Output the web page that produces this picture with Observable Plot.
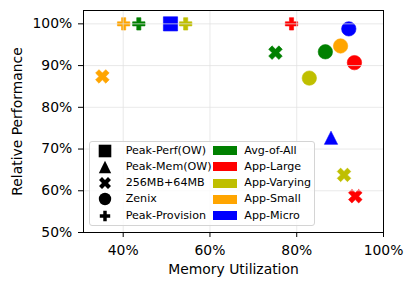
<!DOCTYPE html>
<html><head><meta charset="utf-8">
<script src="https://cdn.jsdelivr.net/npm/d3@7"></script>
<script src="https://cdn.jsdelivr.net/npm/@observablehq/plot@0.6"></script>
<style>
body{margin:0;background:#fff;}
#wrap{position:relative;width:415px;height:289px;font-family:"DejaVu Sans",sans-serif;}
#legend{position:absolute;left:89px;top:141px;width:226px;height:85px;background:rgba(255,255,255,0.8);border:1px solid #d4d4d4;border-radius:3px;box-sizing:border-box;}
.li{position:absolute;font-size:11.1px;line-height:14px;color:#000;white-space:nowrap;font-family:"DejaVu Sans",sans-serif;}
.sw{position:absolute;width:24px;height:9px;}
</style></head><body><div id="wrap"></div>
<script>
// Data
const groups = ["Avg-of-All", "App-Large", "App-Varying", "App-Small", "App-Micro"];
const groupColors = ["#008000", "#ff0000", "#bfbf00", "#ffa500", "#0000ff"];
const methods = ["Peak-Perf(OW)", "Peak-Mem(OW)", "256MB+64MB", "Zenix", "Peak-Provision"];
const pointMethod = ["Peak-Perf(OW)", "Peak-Mem(OW)",
  "256MB+64MB", "256MB+64MB", "256MB+64MB", "256MB+64MB",
  "Zenix", "Zenix", "Zenix", "Zenix", "Zenix",
  "Peak-Provision", "Peak-Provision", "Peak-Provision", "Peak-Provision"];
const pointGroup = ["App-Micro", "App-Micro",
  "Avg-of-All", "App-Small", "App-Varying", "App-Large",
  "App-Micro", "App-Small", "Avg-of-All", "App-Large", "App-Varying",
  "App-Small", "Avg-of-All", "App-Varying", "App-Large"];
const memUtil = [50.9, 87.9, 75.1, 35.2, 90.9, 93.5, 92.0, 90.1, 86.6, 93.3, 82.9, 40.1, 43.6, 54.4, 78.8];
const relPerf = [100, 72.7, 93.1, 87.4, 63.8, 58.7, 98.8, 94.7, 93.3, 90.7, 87.0, 100, 100, 100, 100];
const xTicks = [40, 60, 80, 100];
const yTicks = [50, 60, 70, 80, 90, 100];

const data = memUtil.map((m, i) => ({method: pointMethod[i], group: pointGroup[i], mem: m, perf: relPerf[i]}));

// marker shapes (matplotlib-like), h = half extent
const shapeFns = {
  "Peak-Perf(OW)": (c, h) => { c.rect(-h, -h, 2 * h, 2 * h); },
  "Peak-Mem(OW)": (c, h) => { c.moveTo(0, -h); c.lineTo(h, h); c.lineTo(-h, h); c.closePath(); },
  "256MB+64MB": (c, h) => {
    const k = h / 2;
    const p = [[-1,-2],[0,-1],[1,-2],[2,-1],[1,0],[2,1],[1,2],[0,1],[-1,2],[-2,1],[-1,0],[-2,-1]];
    p.forEach(([a, b], i) => i ? c.lineTo(a * k, b * k) : c.moveTo(a * k, b * k)); c.closePath();
  },
  "Zenix": (c, h) => { c.moveTo(h, 0); c.arc(0, 0, h, 0, 2 * Math.PI); },
  "Peak-Provision": (c, h) => {
    const k = h / 3;
    const p = [[-1,-3],[1,-3],[1,-1],[3,-1],[3,1],[1,1],[1,3],[-1,3],[-1,1],[-3,1],[-3,-1],[-1,-1]];
    p.forEach(([a, b], i) => i ? c.lineTo(a * k, b * k) : c.moveTo(a * k, b * k)); c.closePath();
  }
};
const plotSize = {"Peak-Perf(OW)": 7.1, "Peak-Mem(OW)": 6.6, "256MB+64MB": 6.8, "Zenix": 7.2, "Peak-Provision": 6.2};
const legSize = {"Peak-Perf(OW)": 6.3, "Peak-Mem(OW)": 6.2, "256MB+64MB": 6.0, "Zenix": 6.2, "Peak-Provision": 5.2};
const mkSymbol = fn => ({draw(ctx, size) { fn(ctx, Math.sqrt(size / Math.PI)); }});

const dotMarks = methods.map(m => Plot.dot(data.filter(d => d.method === m), {
  x: "mem", y: "perf", fill: "group", stroke: "group", strokeWidth: 0.6,
  symbol: mkSymbol(shapeFns[m]), r: plotSize[m]
}));

const chart = Plot.plot({
  width: 415, height: 289,
  marginLeft: 83, marginRight: 32, marginTop: 10, marginBottom: 57,
  style: {fontFamily: "DejaVu Sans, sans-serif", fontSize: "13.9px", color: "#000", background: "transparent"},
  x: {domain: [30.85, 100]},
  y: {domain: [50, 103.2]},
  color: {type: "ordinal", domain: groups, range: groupColors},
  marks: [
    ...dotMarks,
    Plot.gridX(xTicks.slice(0, 3), {stroke: "#e2e2e2", strokeOpacity: 0.75, strokeWidth: 1}),
    Plot.gridY(yTicks.slice(1), {stroke: "#e2e2e2", strokeOpacity: 0.75, strokeWidth: 1}),
    Plot.frame({stroke: "#000", strokeWidth: 1}),
    Plot.axisX(xTicks, {tickFormat: d => d + "%", tickSize: 5, tickPadding: 8,
      label: "Memory Utilization", labelAnchor: "center", labelArrow: "none", labelOffset: 41}),
    Plot.axisY(yTicks, {tickFormat: d => d + "%", tickSize: 5, tickPadding: 6.3,
      label: "Relative Performance", labelAnchor: "center", labelArrow: "none", labelOffset: 71})
  ]
});

const wrap = document.getElementById("wrap");
wrap.appendChild(chart);

// Legend
const leg = document.createElement("div");
leg.id = "legend";
wrap.appendChild(leg);
const rowY = i => 8.7 + i * 16.25;
methods.forEach((m, i) => {
  const s = d3.select(leg).append("svg").attr("width", 16).attr("height", 16)
    .style("position", "absolute").style("left", (16 - 8 - 1) + "px").style("top", (rowY(i) - 8) + "px");
  const p = d3.path();
  shapeFns[m](p, legSize[m]);
  s.append("path").attr("transform", "translate(8,8)").attr("d", p.toString()).attr("fill", "#000");
  const t = document.createElement("div");
  t.className = "li"; t.textContent = m;
  t.style.left = "35.7px"; t.style.top = (rowY(i) - 7) + "px";
  leg.appendChild(t);
});
groups.forEach((g, i) => {
  const sw = document.createElement("div");
  sw.className = "sw"; sw.style.background = groupColors[i];
  sw.style.left = "122.7px"; sw.style.top = (rowY(i) - 4.5) + "px";
  leg.appendChild(sw);
  const t = document.createElement("div");
  t.className = "li"; t.textContent = g;
  t.style.left = "154.3px"; t.style.top = (rowY(i) - 7) + "px";
  leg.appendChild(t);
});
</script>
</body></html>
